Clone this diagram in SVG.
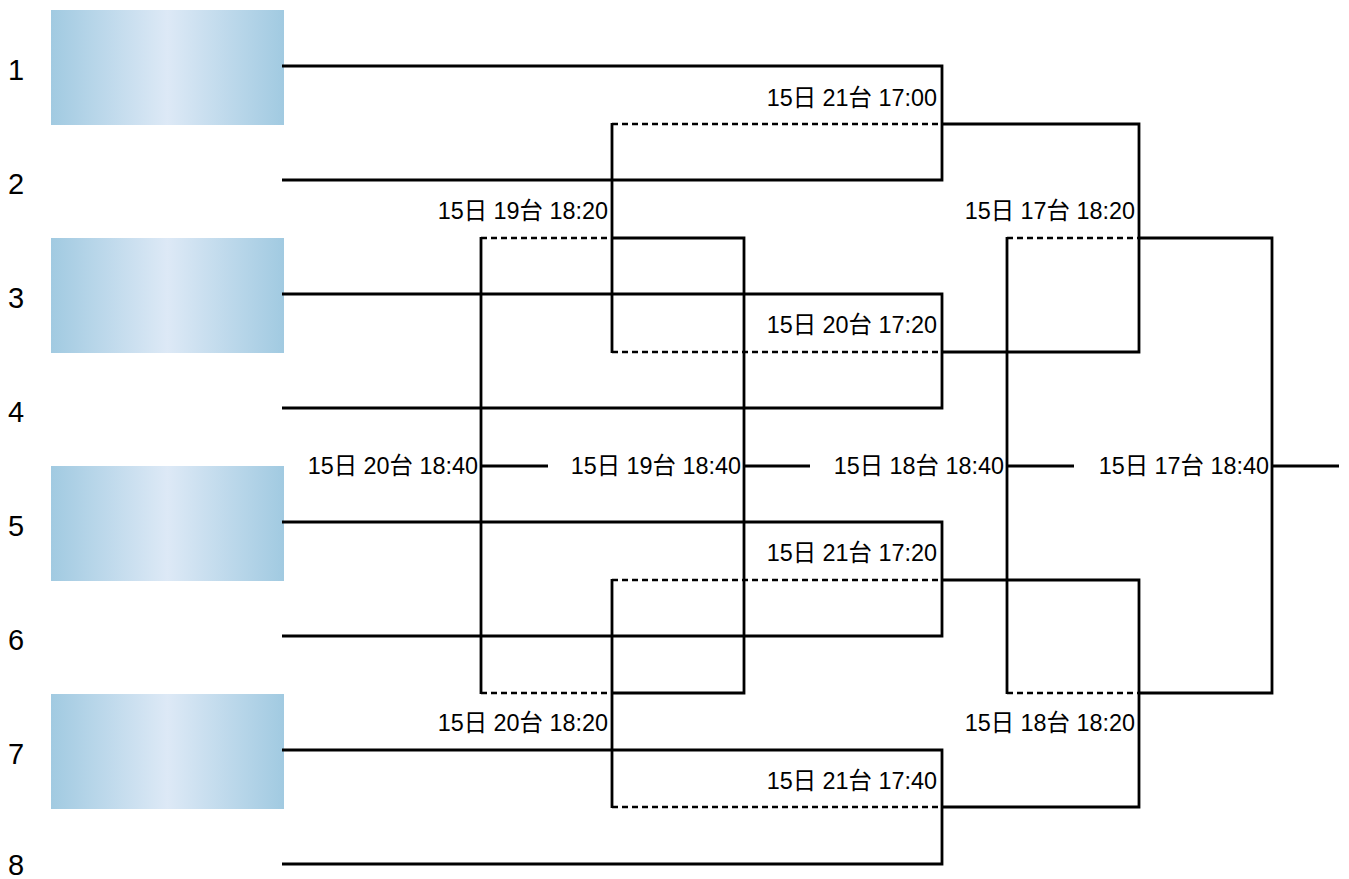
<svg xmlns="http://www.w3.org/2000/svg" width="1349" height="879" viewBox="0 0 1349 879">
<defs>
<linearGradient id="g" x1="0" y1="0" x2="1" y2="0">
<stop offset="0" stop-color="#a1cae1"/>
<stop offset="0.5" stop-color="#dde9f6"/>
<stop offset="1" stop-color="#a1cae1"/>
</linearGradient>
<style>
.box{fill:url(#g)}
.num{font-family:"Liberation Sans",Arial,sans-serif;font-size:29px;fill:#000}
.lbl{font-family:"Liberation Sans","Noto Sans CJK JP",sans-serif;font-size:23.4px;fill:#000;text-anchor:end}
.s{stroke:#000;stroke-width:2.8;fill:none}
.d{stroke:#000;stroke-width:2.6;fill:none;stroke-dasharray:6 4}
</style>
</defs>
<rect width="1349" height="879" fill="#fff"/>
<g id="entries">
<g id="e1"><rect class="box" x="51" y="10" width="233" height="115"/><text class="num" x="8" y="80">1</text></g>
<g id="e2"><text class="num" x="8" y="194">2</text></g>
<g id="e3"><rect class="box" x="51" y="238" width="233" height="115"/><text class="num" x="8" y="308">3</text></g>
<g id="e4"><text class="num" x="8" y="422">4</text></g>
<g id="e5"><rect class="box" x="51" y="466" width="233" height="115"/><text class="num" x="8" y="536">5</text></g>
<g id="e6"><text class="num" x="8" y="650">6</text></g>
<g id="e7"><rect class="box" x="51" y="694" width="233" height="115"/><text class="num" x="8" y="764">7</text></g>
<g id="e8"><text class="num" x="8" y="875">8</text></g>
</g>
<g id="connectors">
<path class="s" d="M282 66H942V180H282M282 294H942V408H282M282 522H942V636H282M282 750H942V864H282"/>
<path class="d" d="M612 124H941M612 352H941M612 580H941M612 807H941"/>
<path class="s" d="M941 124H1139V352H941M941 580H1139V807H941"/>
<path class="s" d="M612 123V353M612 579V808"/>
<path class="d" d="M481 238H612M481 693H612M1007 238H1139M1007 693H1139"/>
<path class="s" d="M612 238H744V693H612M1139 238H1272V693H1139"/>
<path class="s" d="M481 237V694M1007 237V694"/>
<path class="s" d="M481 466H548M744 466H810M1007 466H1074M1272 466H1339"/>
</g>
<g id="labels">
<text class="lbl" x="937" y="106">15日 21台 17:00</text>
<text class="lbl" x="608" y="219">15日 19台 18:20</text>
<text class="lbl" x="1135" y="219">15日 17台 18:20</text>
<text class="lbl" x="937" y="333">15日 20台 17:20</text>
<text class="lbl" x="478" y="474">15日 20台 18:40</text>
<text class="lbl" x="741" y="474">15日 19台 18:40</text>
<text class="lbl" x="1004" y="474">15日 18台 18:40</text>
<text class="lbl" x="1269" y="474">15日 17台 18:40</text>
<text class="lbl" x="937" y="561">15日 21台 17:20</text>
<text class="lbl" x="608" y="731">15日 20台 18:20</text>
<text class="lbl" x="1135" y="731">15日 18台 18:20</text>
<text class="lbl" x="937" y="789">15日 21台 17:40</text>
</g>
</svg>
